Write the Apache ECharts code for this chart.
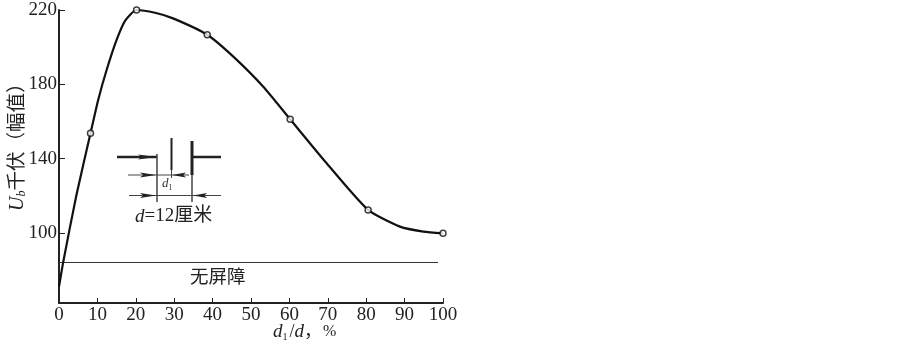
<!DOCTYPE html>
<html>
<head>
<meta charset="utf-8">
<style>
html, body { margin: 0; padding: 0; background: #fff; }
#chart { width: 903px; height: 345px; }
</style>
<script src="https://cdn.jsdelivr.net/npm/echarts@6/dist/echarts.min.js"></script>
</head>
<body>
<div id="chart"></div>
<script>
// curve
var curveX = [0, 1.1, 4.5, 8.2, 10.2, 12.4, 15, 17.2, 20.2, 25, 29.7, 38.6, 45.4, 53.2, 60.2, 69.7, 80.5, 88.8, 94.9, 100];
var curveU = [71, 84.4, 120, 153.6, 171.6, 187.7, 203.9, 214.2, 220, 218.5, 215.5, 206.7, 194.9, 178.7, 161.2, 137.5, 112.4, 103.4, 100.7, 99.8];

// measured points (open circles)
var pointX = [8.2, 20.2, 38.6, 60.2, 80.5, 100];
var pointU = [153.6, 220, 206.7, 161.2, 112.4, 99.8];

// level without the screen
var noScreenX = [0, 98.7];
var noScreenU = [84.1, 84.1];

var yTicks = [100, 140, 180, 220];

var INK = '#222';
var FONT = '"Liberation Serif", "Noto Sans CJK SC", serif';

function pairs(xs, ys) {
	return xs.map(function (x, i) { return [x, ys[i]]; });
}

// inset sketch, plain drawing in page pixels
function seg(x1, y1, x2, y2, w, color) {
	return {
		type: 'line',
		shape: { x1: x1, y1: y1, x2: x2, y2: y2 },
		style: { stroke: color || INK, lineWidth: w }
	};
}
function arrow(tip, y, dir, len) {
	return {
		type: 'polygon',
		shape: { points: [[tip, y], [tip - dir * len, y - 2.5], [tip - dir * len * 0.8, y], [tip - dir * len, y + 2.5]] },
		style: { fill: INK }
	};
}

var sketch = [
	seg(117, 157, 157, 157, 2.5),
	seg(157, 154, 157, 202, 1.5, '#444'),
	seg(171.5, 138, 171.5, 170, 2),
	seg(192, 141, 192, 175, 3),
	seg(192, 157, 221, 157, 2.5),
	seg(192, 175, 192, 202, 1.5, '#444'),
	seg(128, 175, 189, 175, 1, '#444'),
	seg(171.5, 170, 171.5, 178, 1, '#444'),
	seg(129, 195.5, 221, 195.5, 1, '#444'),
	arrow(156, 157, 1, 18),
	arrow(156, 175, 1, 16),
	arrow(172, 175, -1, 14),
	arrow(156, 195.5, 1, 16),
	arrow(193, 195.5, -1, 14)
];

var labels = [
	{
		type: 'text', x: 162, y: 176,
		style: {
			text: '{i|d}{s|1}',
			rich: {
				i: { fontFamily: FONT, fontStyle: 'italic', fontSize: 13, fill: '#333' },
				s: { fontFamily: FONT, fontSize: 8, fill: '#333', padding: [8, 0, 0, 0] }
			}
		}
	},
	{
		type: 'text', x: 135, y: 207,
		style: {
			text: '{i|d}{n|=12厘米}',
			rich: {
				i: { fontFamily: FONT, fontStyle: 'italic', fontSize: 19, fill: INK },
				n: { fontFamily: FONT, fontSize: 19, fill: INK }
			}
		}
	},
	{
		type: 'text', x: 190, y: 269,
		style: { text: '无屏障', fontFamily: FONT, fontSize: 18.5, fill: INK }
	},
	{
		type: 'text', x: 273, y: 322,
		style: {
			text: '{i|d}{s|1}{n|/}{i|d}{n|，}{p|%}',
			rich: {
				i: { fontFamily: FONT, fontStyle: 'italic', fontSize: 19, fill: INK },
				n: { fontFamily: FONT, fontSize: 18, fill: INK },
				p: { fontFamily: FONT, fontSize: 16, fill: INK, padding: [0, 0, 0, 1] },
				s: { fontFamily: FONT, fontSize: 10, fill: INK, padding: [10, 2, 0, 0] }
			}
		}
	},
	{
		type: 'text', x: 8, y: 211, rotation: Math.PI / 2,
		style: {
			text: '{i|U}{s|b}{n|千伏（幅值）}',
			rich: {
				i: { fontFamily: FONT, fontStyle: 'italic', fontSize: 20, fill: INK },
				s: { fontFamily: FONT, fontStyle: 'italic', fontSize: 12, fill: INK, padding: [8, 0, 0, 0] },
				n: { fontFamily: FONT, fontSize: 19.5, fill: INK }
			}
		}
	}
];

var chart = echarts.init(document.getElementById('chart'), null, { renderer: 'canvas' });

chart.setOption({
	backgroundColor: '#fff',
	animation: false,
	grid: { left: 59, top: 10, width: 384, height: 293 },
	xAxis: {
		type: 'value',
		min: 0,
		max: 100,
		interval: 10,
		splitLine: { show: false },
		axisLine: { lineStyle: { color: INK, width: 2 } },
		axisTick: { inside: true, length: 5, lineStyle: { color: INK, width: 1 } },
		axisLabel: { color: INK, fontFamily: FONT, fontSize: 19, margin: 3 }
	},
	yAxis: {
		type: 'value',
		min: 62.3,
		max: 220,
		splitLine: { show: false },
		axisLine: { lineStyle: { color: INK, width: 2 } },
		axisTick: { inside: true, length: 6, customValues: yTicks, lineStyle: { color: INK, width: 1 } },
		axisLabel: { color: INK, fontFamily: FONT, fontSize: 19, margin: 2, customValues: yTicks, hideOverlap: false }
	},
	series: [
		{
			name: 'curve',
			type: 'line',
			smooth: 0.2,
			showSymbol: false,
			clip: false,
			lineStyle: { color: '#111', width: 2.2 },
			data: pairs(curveX, curveU),
			z: 3
		},
		{
			name: 'no screen',
			type: 'line',
			showSymbol: false,
			lineStyle: { color: '#333', width: 1 },
			data: pairs(noScreenX, noScreenU),
			z: 2
		},
		{
			name: 'points',
			type: 'scatter',
			symbol: 'circle',
			symbolSize: 6,
			clip: false,
			itemStyle: { color: '#fff', borderColor: '#111', borderWidth: 1.5 },
			data: pairs(pointX, pointU),
			z: 4
		}
	],
	graphic: sketch.concat(labels)
});
</script>
</body>
</html>
